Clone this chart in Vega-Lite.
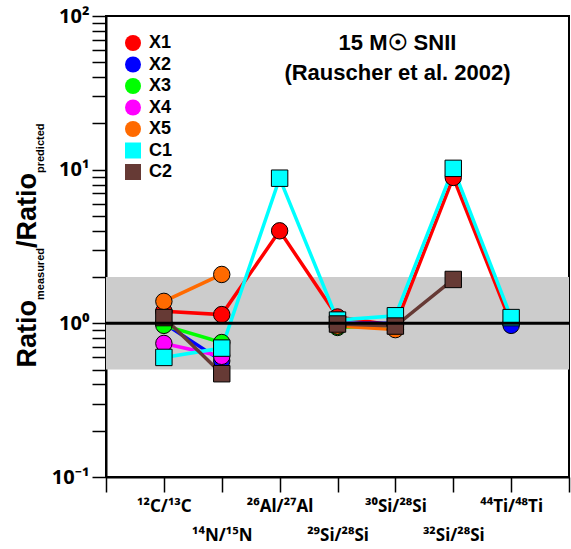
{
  "$schema": "https://vega.github.io/schema/vega-lite/v6.json",
  "width": 463,
  "height": 461,
  "autosize": {"type": "none"},
  "padding": {"left": 106, "top": 16, "right": 2, "bottom": 72},
  "background": "white",
  "title": {
    "text": ["15 M☉ SNII", "(Rauscher et al. 2002)"],
    "fontSize": 22,
    "fontWeight": "bold",
    "font": "Liberation Sans",
    "color": "black",
    "lineHeight": 30,
    "anchor": "middle",
    "frame": "group",
    "baseline": "top",
    "offset": 0,
    "dx": 60,
    "dy": 79
  },
  "config": {
    "font": "Liberation Sans",
    "view": {"stroke": "black", "strokeWidth": 2},
    "axis": {
      "grid": false,
      "domainColor": "black",
      "domainWidth": 2,
      "tickColor": "black",
      "tickWidth": 1.5,
      "labelColor": "black",
      "labelFont": "Noto Sans",
      "labelFontWeight": "bold",
      "titleColor": "black",
      "titleFont": "Liberation Sans",
      "titleFontWeight": "bold",
      "titleAngle": -90,
      "titleAlign": "left",
      "titleBaseline": "alphabetic"
    },
    "axisLeft": {"titleX": -71, "titleY": 351, "titleFontSize": 27},
    "axisBottom": {"titleX": -63, "titleY": -177.5, "titleFontSize": 11},
    "axisRight": {"titleX": -534, "titleY": 231.5, "titleFontSize": 27},
    "axisTop": {"titleX": -63, "titleY": 156.5, "titleFontSize": 11},
    "legend": {
      "labelFontSize": 18,
      "labelFontWeight": "bold",
      "labelColor": "black",
      "labelFont": "Liberation Sans",
      "symbolSize": 256,
      "symbolStrokeColor": "black",
      "symbolStrokeWidth": 1,
      "rowPadding": 1.5,
      "labelOffset": 7,
      "padding": 0
    }
  },
  "datasets": {
    "ratios": [
      {"series": "X1", "pos": 1, "value": 1.2, "seg": "X1"},
      {"series": "X1", "pos": 2, "value": 1.14, "seg": "X1"},
      {"series": "X1", "pos": 3, "value": 4.0, "seg": "X1"},
      {"series": "X1", "pos": 4, "value": 1.1, "seg": "X1"},
      {"series": "X1", "pos": 5, "value": 0.97, "seg": "X1"},
      {"series": "X1", "pos": 6, "value": 8.9, "seg": "X1"},
      {"series": "X1", "pos": 7, "value": 1.0, "seg": "X1"},
      {"series": "X2", "pos": 1, "value": 1.0, "seg": "X2a"},
      {"series": "X2", "pos": 2, "value": 0.57, "seg": "X2a"},
      {"series": "X2", "pos": 4, "value": 1.0, "seg": "X2b"},
      {"series": "X2", "pos": 5, "value": 1.0, "seg": "X2b"},
      {"series": "X2", "pos": 7, "value": 0.97, "seg": "X2c"},
      {"series": "X3", "pos": 1, "value": 0.97, "seg": "X3a"},
      {"series": "X3", "pos": 2, "value": 0.75, "seg": "X3a"},
      {"series": "X3", "pos": 4, "value": 0.94, "seg": "X3b"},
      {"series": "X3", "pos": 5, "value": 0.97, "seg": "X3b"},
      {"series": "X4", "pos": 1, "value": 0.74, "seg": "X4a"},
      {"series": "X4", "pos": 2, "value": 0.61, "seg": "X4a"},
      {"series": "X4", "pos": 4, "value": 0.96, "seg": "X4b"},
      {"series": "X4", "pos": 5, "value": 0.99, "seg": "X4b"},
      {"series": "X5", "pos": 1, "value": 1.39, "seg": "X5a"},
      {"series": "X5", "pos": 2, "value": 2.08, "seg": "X5a"},
      {"series": "X5", "pos": 4, "value": 0.96, "seg": "X5b"},
      {"series": "X5", "pos": 5, "value": 0.91, "seg": "X5b"},
      {"series": "C1", "pos": 1, "value": 0.6, "seg": "C1"},
      {"series": "C1", "pos": 2, "value": 0.69, "seg": "C1"},
      {"series": "C1", "pos": 3, "value": 8.8, "seg": "C1"},
      {"series": "C1", "pos": 4, "value": 1.05, "seg": "C1"},
      {"series": "C1", "pos": 5, "value": 1.12, "seg": "C1"},
      {"series": "C1", "pos": 6, "value": 10.2, "seg": "C1"},
      {"series": "C1", "pos": 7, "value": 1.09, "seg": "C1"},
      {"series": "C2", "pos": 1, "value": 1.09, "seg": "C2a"},
      {"series": "C2", "pos": 2, "value": 0.47, "seg": "C2a"},
      {"series": "C2", "pos": 4, "value": 0.99, "seg": "C2b"},
      {"series": "C2", "pos": 5, "value": 0.96, "seg": "C2b"},
      {"series": "C2", "pos": 6, "value": 1.93, "seg": "C2b"}
    ]
  },
  "layer": [
    {
      "layer": [
        {
          "data": {"values": [{}]},
          "mark": {"type": "rect", "color": "#CCCCCC"},
          "encoding": {
            "y": {"datum": 0.5, "type": "quantitative"},
            "y2": {"datum": 2}
          }
        },
        {
          "data": {"name": "ratios"},
          "mark": {"type": "line", "strokeWidth": 3.5},
          "encoding": {
            "x": {
              "field": "pos", "type": "quantitative",
              "title": "measured",
              "scale": {"domain": [0, 8], "nice": false, "zero": false},
              "axis": {
                "values": [0, 1, 2, 3, 4, 5, 6, 7, 8],
                "tickSize": 15,
                "labelFontSize": 17,
                "labelBaseline": "top",
                "labelLineHeight": 29,
                "labelPadding": 6,
                "labelOverlap": false,
                "labelFlush": false,
                "labelExpr": "datum.value==1?'¹²C/¹³C':datum.value==2?['','¹⁴N/¹⁵N']:datum.value==3?'²⁶Al/²⁷Al':datum.value==4?['','²⁹Si/²⁸Si']:datum.value==5?'³⁰Si/²⁸Si':datum.value==6?['','³²Si/²⁸Si']:datum.value==7?'⁴⁴Ti/⁴⁸Ti':''"
              }
            },
            "y": {
              "field": "value", "type": "quantitative",
              "title": "Ratio",
              "scale": {"type": "log", "domain": [0.1, 100], "nice": false},
              "axis": {
                "values": [0.1, 0.2, 0.3, 0.4, 0.5, 0.6, 0.7, 0.8, 0.9, 1, 2, 3, 4, 5, 6, 7, 8, 9, 10, 20, 30, 40, 50, 60, 70, 80, 90, 100],
                "tickSize": 14,
                "labelFontSize": 20,
                "labelPadding": 3,
                "labelOverlap": false,
                "labelExpr": "datum.value==100?'10²':datum.value==10?'10¹':datum.value==1?'10⁰':datum.value==0.1?'10⁻¹':''"
              }
            },
            "stroke": {
              "field": "series", "type": "nominal",
              "scale": {
                "domain": ["C2", "C1", "X5", "X4", "X3", "X2", "X1"],
                "range": ["#663A35", "#00FFFF", "#FF6A00", "#FF00FF", "#00FF00", "#0000FF", "#FF0000"]
              },
              "legend": null
            },
            "detail": {"field": "seg", "type": "nominal"}
          }
        },
        {
          "data": {"name": "ratios"},
          "mark": {"type": "point", "filled": true, "size": 270, "stroke": "black", "strokeWidth": 1, "opacity": 1},
          "encoding": {
            "x": {"field": "pos", "type": "quantitative", "title": "measured"},
            "y": {"field": "value", "type": "quantitative", "title": "Ratio"},
            "fill": {
              "field": "series", "type": "nominal",
              "scale": {
                "domain": ["X1", "X2", "X3", "X4", "X5", "C1", "C2"],
                "range": ["#FF0000", "#0000FF", "#00FF00", "#FF00FF", "#FF6A00", "#00FFFF", "#663A35"]
              },
              "legend": {"orient": "top-left", "offset": 18, "title": null}
            },
            "shape": {
              "field": "series", "type": "nominal",
              "scale": {
                "domain": ["X1", "X2", "X3", "X4", "X5", "C1", "C2"],
                "range": ["circle", "circle", "circle", "circle", "circle", "square", "square"]
              },
              "legend": {"orient": "top-left", "offset": 18, "title": null}
            }
          }
        },
        {
          "data": {"values": [{}]},
          "mark": {"type": "rule", "color": "black", "strokeWidth": 3},
          "encoding": {
            "y": {"datum": 1, "type": "quantitative"}
          }
        }
      ]
    },
    {
      "data": {"values": [{"pos": 4, "value": 1}]},
      "mark": {"type": "point", "opacity": 0},
      "encoding": {
        "x": {
          "field": "pos", "type": "quantitative",
          "scale": {"domain": [0, 8], "nice": false, "zero": false},
          "axis": {"orient": "top", "title": "predicted", "domain": false, "ticks": false, "labels": false, "grid": false}
        },
        "y": {
          "field": "value", "type": "quantitative",
          "scale": {"type": "log", "domain": [0.1, 100], "nice": false},
          "axis": {"orient": "right", "title": "/Ratio", "domain": false, "ticks": false, "labels": false, "grid": false}
        }
      }
    }
  ],
  "resolve": {"scale": {"x": "independent", "y": "independent"}}
}
